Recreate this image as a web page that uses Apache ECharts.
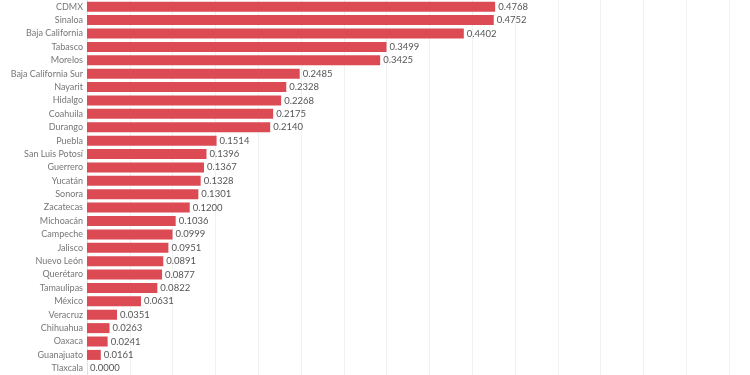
<!DOCTYPE html>
<html>
<head>
<meta charset="utf-8">
<script src="https://cdn.jsdelivr.net/npm/echarts@6/dist/echarts.min.js"></script>
<style>
  html, body { margin: 0; padding: 0; background: #fff; }
  #chart { width: 750px; height: 375px; }
</style>
</head>
<body>
<div id="chart"></div>
<script>
// estados, de mayor a menor
const states = [
  'CDMX', 'Sinaloa', 'Baja California', 'Tabasco', 'Morelos', 'Baja California Sur',
  'Nayarit', 'Hidalgo', 'Coahuila', 'Durango', 'Puebla', 'San Luis Potosí',
  'Guerrero', 'Yucatán', 'Sonora', 'Zacatecas', 'Michoacán', 'Campeche',
  'Jalisco', 'Nuevo León', 'Querétaro', 'Tamaulipas', 'México', 'Veracruz',
  'Chihuahua', 'Oaxaca', 'Guanajuato', 'Tlaxcala'
]
const rates = [
  0.4768, 0.4752, 0.4402, 0.3499, 0.3425, 0.2485,
  0.2328, 0.2268, 0.2175, 0.2140, 0.1514, 0.1396,
  0.1367, 0.1328, 0.1301, 0.1200, 0.1036, 0.0999,
  0.0951, 0.0891, 0.0877, 0.0822, 0.0631, 0.0351,
  0.0263, 0.0241, 0.0161, 0.0000
]

const chart = echarts.init(document.getElementById('chart'))
chart.setOption({
  animation: false,
  grid: {
    left: 87,
    right: 21,
    top: -1,
    bottom: -1,
    containLabel: false,
  },
  xAxis: {
    type: 'value',
    min: 0,
    max: 0.75,
    interval: 0.05,
    axisLabel: { show: false },
    axisLine: { show: false },
    axisTick: { show: false },
    splitLine: { lineStyle: { color: '#f1f1f1', width: 1 } },
  },
  yAxis: {
    type: 'category',
    inverse: true,
    data: states,
    axisTick: { show: false },
    axisLine: { show: true, lineStyle: { color: '#e2e2e2' } },
    axisLabel: {
      color: '#777',
      fontFamily: 'Lato',
      fontSize: 9,
      margin: 4,
    },
  },
  series: [
    {
      type: 'bar',
      data: rates,
      barWidth: 10,
      itemStyle: { color: '#dc4a53' },
      label: {
        show: true,
        position: 'right',
        distance: 3,
        color: '#555',
        fontFamily: 'Lato',
        fontSize: 9.5,
        formatter: p => p.value.toFixed(4),
      },
    },
  ],
})
</script>
</body>
</html>
